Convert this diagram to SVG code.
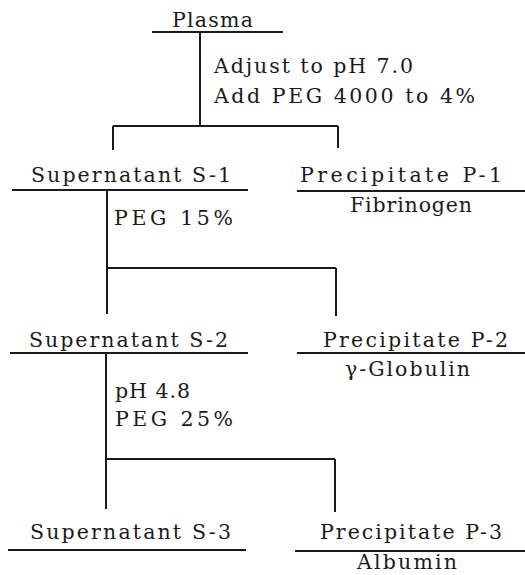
<svg xmlns="http://www.w3.org/2000/svg" width="525" height="575" viewBox="0 0 525 575">
<style>
text{font-family:"DejaVu Serif","Liberation Serif",serif;font-size:20.5px;fill:#1a1a1a}
line{stroke:#1a1a1a;stroke-width:2;fill:none}
</style>
<rect width="525" height="575" fill="#fff"/>
<g id="connectors">
<line x1="200" y1="32" x2="200" y2="126"/>
<line x1="113" y1="126" x2="338" y2="126"/>
<line x1="113" y1="126" x2="113" y2="150"/>
<line x1="338" y1="126" x2="338" y2="148"/>
<line x1="107" y1="190" x2="107" y2="314"/>
<line x1="107" y1="268" x2="336" y2="268"/>
<line x1="336" y1="268" x2="336" y2="316"/>
<line x1="106" y1="353" x2="106" y2="509"/>
<line x1="106" y1="459" x2="335" y2="459"/>
<line x1="335" y1="459" x2="335" y2="512"/>
<text x="214" y="73" textLength="199">Adjust to pH 7.0</text>
<text x="214" y="103" textLength="261">Add PEG 4000 to 4%</text>
<text x="114" y="225" textLength="119">PEG 15%</text>
<text x="115" y="398" textLength="75">pH 4.8</text>
<text x="115" y="426" textLength="118">PEG 25%</text>
</g>
<g id="plasma">
<text x="172" y="27" textLength="81">Plasma</text>
<line x1="152" y1="32" x2="283" y2="32"/>
</g>
<g id="s1">
<text x="31" y="182" textLength="200">Supernatant  S-1</text>
<line x1="12" y1="190" x2="248" y2="190"/>
</g>
<g id="p1">
<text x="300" y="182" textLength="202">Precipitate P-1</text>
<line x1="297" y1="191" x2="525" y2="191"/>
<text x="350" y="212" textLength="122">Fibrinogen</text>
</g>
<g id="s2">
<text x="29" y="347" textLength="199">Supernatant  S-2</text>
<line x1="10" y1="353" x2="248" y2="353"/>
</g>
<g id="p2">
<text x="323" y="347" textLength="185">Precipitate P-2</text>
<line x1="297" y1="353" x2="525" y2="353"/>
<text x="345" y="376" textLength="125">γ-Globulin</text>
</g>
<g id="s3">
<text x="30" y="539" textLength="201">Supernatant  S-3</text>
<line x1="8" y1="550" x2="246" y2="550"/>
</g>
<g id="p3">
<text x="320" y="539" textLength="182">Precipitate P-3</text>
<line x1="295" y1="551" x2="525" y2="551"/>
<text x="357" y="569" textLength="100">Albumin</text>
</g>
</svg>
